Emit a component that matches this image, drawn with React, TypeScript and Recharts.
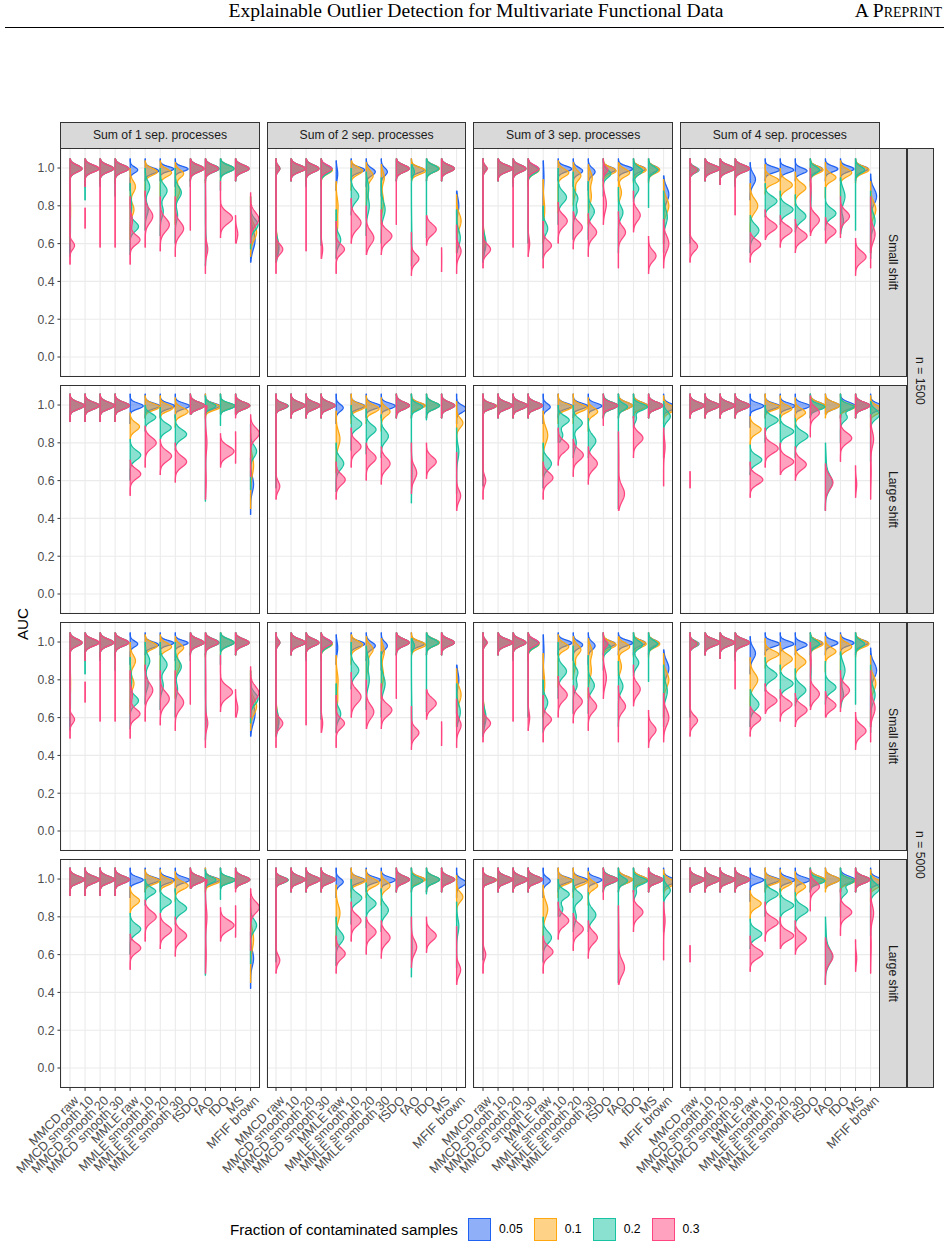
import React from "react";
import { ComposedChart, Area, XAxis, YAxis, CartesianGrid } from "recharts";

// Methods on the x axis, one half-violin per contamination fraction each
const methods = [
  "MMCD raw",
  "MMCD smooth 10",
  "MMCD smooth 20",
  "MMCD smooth 30",
  "MMLE raw",
  "MMLE smooth 10",
  "MMLE smooth 20",
  "MMLE smooth 30",
  "fSDO",
  "fAO",
  "fDO",
  "MS",
  "MFIF brown",
];
const methodTicks = [1, 2, 3, 4, 5, 6, 7, 8, 9, 10, 11, 12, 13];
const fractions = ["0.05", "0.1", "0.2", "0.3"];
const fractionColors = ["#1f62f2", "#ffa70f", "#17c3a1", "#ff4580"];
const processes = [
  "Sum of 1 sep. processes",
  "Sum of 2 sep. processes",
  "Sum of 3 sep. processes",
  "Sum of 4 sep. processes",
];
const shifts = ["Small shift", "Large shift", "Small shift", "Large shift"];
const sampleSizes = ["n = 1500", "n = 5000"];
const aucTicks = [0, 0.2, 0.4, 0.6, 0.8, 1.0];

// One violin: [fraction index, lowest AUC, highest AUC, then (centre, spread, half-width) per mode]
type Violin = number[];

const smallShift1: Violin[][] = [
  [[0, 0.55, 1.05, 0.997, 0.018, 0.8, 0.75, 0.1, 0.02], [1, 0.6, 1.05, 0.997, 0.018, 0.8, 0.78, 0.06, 0.04], [2, 0.53, 1.05, 0.997, 0.018, 0.78, 0.7, 0.1, 0.03], [3, 0.49, 1.05, 0.997, 0.018, 0.8, 0.59, 0.02, 0.3]],
  [[0, 0.9, 1.05, 0.997, 0.018, 0.9], [1, 0.9, 1.05, 0.997, 0.018, 0.9], [2, 0.83, 1.05, 0.997, 0.018, 0.9], [3, 0.9, 1.05, 0.997, 0.018, 0.95], [3, 0.68, 0.79, 0.74, 0.05, 0.01]],
  [[0, 0.92, 1.05, 0.997, 0.018, 0.9], [1, 0.92, 1.05, 0.997, 0.018, 0.9], [2, 0.9, 1.05, 0.997, 0.018, 0.9], [3, 0.58, 1.05, 0.997, 0.018, 0.9]],
  [[0, 0.92, 1.05, 0.997, 0.018, 0.9], [1, 0.92, 1.05, 0.997, 0.018, 0.9], [2, 0.85, 1.05, 0.997, 0.018, 0.9], [3, 0.58, 1.05, 0.997, 0.018, 0.9]],
  [[0, 0.88, 1.05, 0.99, 0.015, 0.5], [1, 0.62, 1.0, 0.9, 0.03, 0.35, 0.78, 0.03, 0.25], [2, 0.54, 0.92, 0.69, 0.025, 0.55, 0.8, 0.04, 0.1], [3, 0.49, 0.85, 0.62, 0.025, 0.65, 0.72, 0.03, 0.15]],
  [[0, 0.93, 1.05, 0.985, 0.015, 0.9], [1, 0.85, 1.04, 0.98, 0.018, 0.8], [2, 0.67, 1.0, 0.9, 0.03, 0.3, 0.78, 0.03, 0.2], [3, 0.58, 0.88, 0.745, 0.035, 0.5]],
  [[0, 0.93, 1.05, 0.995, 0.013, 0.9], [1, 0.85, 1.04, 0.975, 0.02, 0.75], [2, 0.64, 1.0, 0.88, 0.03, 0.45, 0.77, 0.03, 0.2], [3, 0.56, 0.85, 0.7, 0.035, 0.6]],
  [[0, 0.9, 1.05, 0.995, 0.013, 0.85], [1, 0.7, 1.03, 0.97, 0.02, 0.55, 0.88, 0.03, 0.3], [2, 0.6, 1.0, 0.87, 0.03, 0.4, 0.75, 0.03, 0.15], [3, 0.53, 0.85, 0.68, 0.035, 0.55]],
  [[0, 0.93, 1.05, 0.997, 0.018, 0.9], [1, 0.93, 1.05, 0.997, 0.018, 0.9], [2, 0.9, 1.05, 0.997, 0.018, 0.9], [3, 0.67, 1.05, 0.997, 0.018, 0.9]],
  [[0, 0.93, 1.05, 0.997, 0.018, 0.9], [1, 0.92, 1.05, 0.997, 0.018, 0.9], [2, 0.48, 1.05, 0.997, 0.018, 0.9, 0.6, 0.05, 0.05], [3, 0.44, 1.05, 0.997, 0.018, 0.85, 0.57, 0.03, 0.15, 0.75, 0.1, 0.03]],
  [[0, 0.95, 1.05, 0.997, 0.018, 0.9], [1, 0.93, 1.05, 0.997, 0.018, 0.9], [2, 0.88, 1.05, 0.997, 0.018, 0.9], [3, 0.63, 0.93, 0.735, 0.03, 0.8]],
  [[0, 0.93, 1.05, 0.997, 0.018, 0.9], [1, 0.93, 1.05, 0.997, 0.018, 0.9], [2, 0.93, 1.05, 0.997, 0.018, 0.9], [3, 0.93, 1.05, 0.997, 0.018, 0.9], [3, 0.6, 0.75, 0.65, 0.03, 0.15]],
  [[0, 0.5, 0.8, 0.62, 0.05, 0.3], [1, 0.53, 0.85, 0.66, 0.04, 0.4], [2, 0.57, 0.85, 0.7, 0.03, 0.5], [3, 0.6, 0.87, 0.73, 0.035, 0.55]],
];

const smallShift2: Violin[][] = [
  [[0, 0.5, 1.05, 0.997, 0.015, 0.25, 0.57, 0.03, 0.15], [1, 0.5, 1.05, 0.997, 0.015, 0.25, 0.6, 0.04, 0.12], [2, 0.5, 1.05, 0.997, 0.015, 0.25, 0.58, 0.04, 0.2], [3, 0.44, 1.05, 0.997, 0.015, 0.25, 0.57, 0.025, 0.45]],
  [[0, 0.93, 1.05, 0.997, 0.018, 0.95], [1, 0.93, 1.05, 0.997, 0.018, 0.95], [2, 0.93, 1.05, 0.997, 0.018, 0.95], [3, 0.93, 1.05, 0.997, 0.018, 0.95]],
  [[0, 0.92, 1.05, 0.997, 0.018, 0.85], [1, 0.92, 1.05, 0.997, 0.018, 0.85], [2, 0.9, 1.05, 0.997, 0.018, 0.85], [3, 0.56, 1.05, 0.997, 0.018, 0.85]],
  [[0, 0.92, 1.05, 0.995, 0.018, 0.75], [1, 0.9, 1.05, 0.99, 0.02, 0.75], [2, 0.59, 1.05, 0.99, 0.02, 0.7], [3, 0.52, 1.05, 0.997, 0.018, 0.7, 0.57, 0.03, 0.1]],
  [[0, 0.88, 1.04, 0.97, 0.03, 0.1], [1, 0.62, 0.93, 0.8, 0.04, 0.12, 0.7, 0.04, 0.1], [2, 0.52, 0.78, 0.62, 0.03, 0.3], [3, 0.44, 0.72, 0.57, 0.025, 0.55]],
  [[0, 0.93, 1.05, 0.99, 0.015, 0.9], [1, 0.88, 1.04, 0.985, 0.02, 0.75], [2, 0.75, 1.0, 0.85, 0.03, 0.5], [3, 0.6, 0.84, 0.71, 0.035, 0.65]],
  [[0, 0.9, 1.05, 0.98, 0.02, 0.6], [1, 0.8, 1.03, 0.96, 0.025, 0.45, 0.88, 0.03, 0.15], [2, 0.64, 0.98, 0.8, 0.04, 0.2, 0.9, 0.03, 0.15], [3, 0.54, 0.8, 0.63, 0.035, 0.5]],
  [[0, 0.85, 1.05, 0.98, 0.02, 0.4], [1, 0.7, 1.02, 0.95, 0.03, 0.2, 0.82, 0.04, 0.15], [2, 0.6, 0.95, 0.78, 0.04, 0.25], [3, 0.54, 0.78, 0.64, 0.03, 0.7]],
  [[0, 0.93, 1.05, 0.997, 0.018, 0.85], [1, 0.93, 1.05, 0.997, 0.018, 0.85], [2, 0.93, 1.05, 0.997, 0.018, 0.85], [3, 0.7, 1.05, 0.997, 0.018, 0.85]],
  [[0, 0.95, 1.05, 0.99, 0.015, 0.85], [1, 0.93, 1.05, 0.985, 0.018, 0.95], [2, 0.48, 1.02, 0.98, 0.02, 0.2, 0.6, 0.1, 0.03], [3, 0.43, 0.66, 0.52, 0.025, 0.5]],
  [[0, 0.93, 1.05, 0.997, 0.018, 0.85], [1, 0.93, 1.05, 0.997, 0.018, 0.85], [2, 0.63, 1.05, 0.997, 0.018, 0.8], [3, 0.59, 0.75, 0.675, 0.028, 0.65]],
  [[0, 0.93, 1.05, 0.997, 0.018, 0.85], [1, 0.93, 1.05, 0.997, 0.018, 0.85], [2, 0.93, 1.05, 0.997, 0.018, 0.85], [3, 0.93, 1.05, 0.997, 0.018, 0.85], [3, 0.45, 0.58, 0.52, 0.04, 0.01]],
  [[0, 0.62, 0.88, 0.8, 0.04, 0.15], [1, 0.55, 0.86, 0.72, 0.04, 0.3], [2, 0.55, 0.78, 0.63, 0.04, 0.25], [3, 0.44, 0.7, 0.56, 0.03, 0.3]],
];

const smallShift3: Violin[][] = [
  [[0, 0.5, 1.05, 0.997, 0.015, 0.25, 0.6, 0.04, 0.12], [1, 0.52, 1.05, 0.997, 0.015, 0.25, 0.62, 0.04, 0.12], [2, 0.5, 1.05, 0.997, 0.015, 0.25, 0.6, 0.04, 0.2], [3, 0.47, 1.05, 0.997, 0.015, 0.28, 0.57, 0.025, 0.5]],
  [[0, 0.93, 1.05, 0.997, 0.018, 0.95], [1, 0.93, 1.05, 0.997, 0.018, 0.95], [2, 0.93, 1.05, 0.997, 0.018, 0.95], [3, 0.93, 1.05, 0.997, 0.018, 0.95]],
  [[0, 0.92, 1.05, 0.997, 0.018, 0.85], [1, 0.92, 1.05, 0.997, 0.018, 0.85], [2, 0.9, 1.05, 0.997, 0.018, 0.85], [3, 0.58, 1.05, 0.997, 0.018, 0.85]],
  [[0, 0.92, 1.05, 0.995, 0.018, 0.73], [1, 0.9, 1.05, 0.99, 0.02, 0.73], [2, 0.6, 1.05, 0.99, 0.02, 0.7], [3, 0.53, 1.05, 0.997, 0.018, 0.7, 0.6, 0.03, 0.1]],
  [[0, 0.6, 1.04, 0.95, 0.05, 0.05], [1, 0.6, 0.94, 0.78, 0.05, 0.1], [2, 0.52, 0.8, 0.68, 0.03, 0.3], [3, 0.47, 0.72, 0.59, 0.025, 0.55]],
  [[0, 0.93, 1.05, 0.995, 0.015, 0.9], [1, 0.76, 1.04, 0.975, 0.02, 0.7], [2, 0.7, 1.0, 0.845, 0.03, 0.55], [3, 0.6, 0.82, 0.72, 0.03, 0.6]],
  [[0, 0.9, 1.05, 0.985, 0.018, 0.62], [1, 0.8, 1.03, 0.96, 0.025, 0.5, 0.88, 0.03, 0.15], [2, 0.62, 0.98, 0.84, 0.025, 0.3, 0.77, 0.025, 0.25], [3, 0.57, 0.77, 0.685, 0.03, 0.6]],
  [[0, 0.88, 1.05, 0.98, 0.02, 0.45], [1, 0.7, 1.02, 0.95, 0.03, 0.25, 0.85, 0.04, 0.2], [2, 0.62, 0.93, 0.77, 0.03, 0.4], [3, 0.53, 0.76, 0.66, 0.03, 0.55]],
  [[0, 0.93, 1.05, 0.99, 0.015, 0.8], [1, 0.9, 1.05, 0.985, 0.018, 0.85], [2, 0.85, 1.05, 0.97, 0.02, 0.5], [3, 0.7, 1.05, 0.99, 0.015, 0.3, 0.81, 0.04, 0.2]],
  [[0, 0.93, 1.05, 0.995, 0.015, 0.95], [1, 0.82, 1.03, 0.975, 0.02, 0.75, 0.87, 0.03, 0.2], [2, 0.55, 0.9, 0.765, 0.03, 0.3], [3, 0.47, 0.77, 0.66, 0.03, 0.47]],
  [[0, 0.93, 1.05, 0.995, 0.015, 0.8], [1, 0.92, 1.05, 0.99, 0.018, 0.85], [2, 0.82, 1.05, 0.985, 0.02, 0.6, 0.89, 0.025, 0.35], [3, 0.66, 0.88, 0.75, 0.03, 0.45]],
  [[0, 0.93, 1.05, 0.995, 0.015, 0.7], [1, 0.92, 1.05, 0.99, 0.018, 0.75], [2, 0.79, 1.05, 0.99, 0.018, 0.6], [3, 0.44, 0.64, 0.535, 0.028, 0.5]],
  [[0, 0.6, 0.96, 0.86, 0.04, 0.35], [1, 0.6, 0.94, 0.8, 0.04, 0.35], [2, 0.55, 0.88, 0.74, 0.04, 0.25], [3, 0.47, 0.73, 0.6, 0.04, 0.35]],
];

const smallShift4: Violin[][] = [
  [[0, 0.63, 1.05, 0.99, 0.015, 0.6], [1, 0.63, 1.05, 0.99, 0.015, 0.55], [2, 0.6, 1.05, 0.99, 0.015, 0.5], [3, 0.5, 1.05, 0.99, 0.015, 0.45, 0.585, 0.025, 0.5]],
  [[0, 0.93, 1.05, 0.997, 0.018, 0.97], [1, 0.93, 1.05, 0.997, 0.018, 0.97], [2, 0.93, 1.05, 0.997, 0.018, 0.97], [3, 0.93, 1.05, 0.997, 0.018, 0.97]],
  [[0, 0.91, 1.05, 0.997, 0.018, 0.95], [1, 0.91, 1.05, 0.997, 0.018, 0.95], [2, 0.91, 1.05, 0.997, 0.018, 0.95], [3, 0.91, 1.05, 0.997, 0.018, 0.95]],
  [[0, 0.92, 1.05, 0.997, 0.018, 0.95], [1, 0.92, 1.05, 0.997, 0.018, 0.95], [2, 0.9, 1.05, 0.997, 0.018, 0.95], [3, 0.75, 1.05, 0.997, 0.018, 0.95]],
  [[0, 0.83, 1.03, 0.94, 0.03, 0.35], [1, 0.66, 0.92, 0.8, 0.035, 0.5], [2, 0.55, 0.75, 0.67, 0.03, 0.58], [3, 0.5, 0.66, 0.595, 0.025, 0.7]],
  [[0, 0.93, 1.05, 0.99, 0.015, 0.95], [1, 0.86, 1.02, 0.935, 0.02, 0.9], [2, 0.74, 0.92, 0.825, 0.025, 0.78], [3, 0.62, 0.78, 0.69, 0.025, 0.78]],
  [[0, 0.93, 1.05, 0.99, 0.015, 0.9], [1, 0.83, 1.0, 0.91, 0.025, 0.8], [2, 0.7, 0.88, 0.78, 0.025, 0.85], [3, 0.58, 0.75, 0.67, 0.025, 0.78]],
  [[0, 0.93, 1.05, 0.985, 0.015, 0.78], [1, 0.8, 0.98, 0.895, 0.025, 0.7], [2, 0.66, 0.86, 0.745, 0.028, 0.7], [3, 0.55, 0.73, 0.64, 0.027, 0.78]],
  [[0, 0.93, 1.05, 0.995, 0.015, 0.8], [1, 0.9, 1.05, 0.99, 0.018, 0.85], [2, 0.66, 1.05, 0.99, 0.018, 0.6, 0.85, 0.05, 0.05], [3, 0.64, 1.0, 0.725, 0.03, 0.6, 0.9, 0.04, 0.05]],
  [[0, 0.93, 1.05, 0.995, 0.015, 0.83], [1, 0.84, 1.03, 0.95, 0.02, 0.7], [2, 0.67, 0.9, 0.76, 0.025, 0.7], [3, 0.6, 0.74, 0.665, 0.025, 0.7]],
  [[0, 0.93, 1.05, 0.995, 0.015, 0.9], [1, 0.85, 1.04, 0.975, 0.02, 0.75], [2, 0.65, 0.95, 0.85, 0.04, 0.3, 0.72, 0.03, 0.2], [3, 0.63, 0.85, 0.745, 0.028, 0.6]],
  [[0, 0.93, 1.05, 0.995, 0.015, 0.85], [1, 0.92, 1.05, 0.99, 0.018, 0.9], [2, 0.67, 1.05, 0.99, 0.018, 0.6], [3, 0.43, 0.63, 0.53, 0.028, 0.7]],
  [[0, 0.55, 0.97, 0.85, 0.04, 0.4], [1, 0.55, 0.93, 0.78, 0.04, 0.35], [2, 0.52, 0.88, 0.72, 0.04, 0.3], [3, 0.47, 0.85, 0.65, 0.04, 0.3]],
];

const largeShift1: Violin[][] = [
  [[0, 0.91, 1.06, 0.997, 0.018, 0.95], [1, 0.91, 1.06, 0.997, 0.018, 0.95], [2, 0.91, 1.06, 0.997, 0.018, 0.95], [3, 0.91, 1.06, 0.997, 0.018, 0.95]],
  [[0, 0.91, 1.06, 0.997, 0.018, 0.95], [1, 0.91, 1.06, 0.997, 0.018, 0.95], [2, 0.91, 1.06, 0.997, 0.018, 0.95], [3, 0.91, 1.06, 0.997, 0.018, 0.95]],
  [[0, 0.91, 1.06, 0.997, 0.018, 0.95], [1, 0.91, 1.06, 0.997, 0.018, 0.95], [2, 0.91, 1.06, 0.997, 0.018, 0.95], [3, 0.91, 1.06, 0.997, 0.018, 0.95]],
  [[0, 0.91, 1.06, 0.997, 0.018, 0.95], [1, 0.91, 1.06, 0.997, 0.018, 0.95], [2, 0.91, 1.06, 0.997, 0.018, 0.95], [3, 0.91, 1.06, 0.997, 0.018, 0.95]],
  [[0, 0.9, 1.06, 0.995, 0.015, 0.87], [1, 0.82, 0.96, 0.885, 0.022, 0.62], [2, 0.6, 0.82, 0.735, 0.025, 0.7], [3, 0.52, 0.71, 0.635, 0.025, 0.7]],
  [[0, 0.93, 1.06, 0.995, 0.015, 0.95], [1, 0.93, 1.05, 0.99, 0.017, 0.95], [2, 0.86, 1.0, 0.935, 0.02, 0.7], [3, 0.67, 0.89, 0.8, 0.028, 0.73]],
  [[0, 0.93, 1.06, 0.995, 0.015, 0.95], [1, 0.93, 1.05, 0.985, 0.017, 0.85], [2, 0.82, 0.99, 0.88, 0.022, 0.73], [3, 0.63, 0.82, 0.73, 0.027, 0.75]],
  [[0, 0.93, 1.06, 0.995, 0.015, 0.95], [1, 0.88, 1.04, 0.965, 0.02, 0.85], [2, 0.76, 0.95, 0.845, 0.025, 0.75], [3, 0.59, 0.8, 0.7, 0.028, 0.75]],
  [[0, 0.95, 1.06, 0.997, 0.018, 0.95], [1, 0.95, 1.06, 0.997, 0.018, 0.95], [2, 0.95, 1.06, 0.997, 0.018, 0.95], [3, 0.95, 1.06, 0.997, 0.018, 0.95]],
  [[0, 0.95, 1.06, 0.995, 0.015, 0.95], [1, 0.93, 1.06, 0.99, 0.017, 1.0], [2, 0.49, 1.05, 0.995, 0.015, 0.7, 0.75, 0.1, 0.02], [3, 0.5, 1.0, 0.99, 0.015, 0.1, 0.8, 0.05, 0.1, 0.6, 0.06, 0.05]],
  [[0, 0.95, 1.06, 0.995, 0.015, 0.95], [1, 0.95, 1.06, 0.995, 0.015, 0.95], [2, 0.89, 1.06, 0.995, 0.016, 0.98], [3, 0.67, 0.85, 0.755, 0.027, 0.9]],
  [[0, 0.95, 1.06, 0.997, 0.018, 0.95], [1, 0.95, 1.06, 0.997, 0.018, 0.95], [2, 0.95, 1.06, 0.997, 0.018, 0.95], [3, 0.93, 1.06, 0.997, 0.018, 0.95], [3, 0.69, 0.86, 0.78, 0.05, 0.01]],
  [[0, 0.42, 0.72, 0.58, 0.04, 0.2], [1, 0.45, 0.85, 0.68, 0.05, 0.2], [2, 0.55, 0.9, 0.755, 0.03, 0.4], [3, 0.62, 0.95, 0.85, 0.03, 0.58]],
];

const largeShift2: Violin[][] = [
  [[0, 0.6, 1.06, 0.995, 0.015, 0.8], [1, 0.6, 1.06, 0.995, 0.015, 0.8], [2, 0.56, 1.06, 0.995, 0.015, 0.8], [3, 0.5, 1.06, 0.995, 0.015, 0.75, 0.57, 0.025, 0.25]],
  [[0, 0.93, 1.06, 0.997, 0.018, 0.93], [1, 0.93, 1.06, 0.997, 0.018, 0.93], [2, 0.93, 1.06, 0.997, 0.018, 0.93], [3, 0.93, 1.06, 0.997, 0.018, 0.93]],
  [[0, 0.93, 1.06, 0.997, 0.018, 0.93], [1, 0.93, 1.06, 0.997, 0.018, 0.93], [2, 0.93, 1.06, 0.997, 0.018, 0.93], [3, 0.93, 1.06, 0.997, 0.018, 0.93]],
  [[0, 0.93, 1.06, 0.997, 0.018, 0.93], [1, 0.93, 1.06, 0.997, 0.018, 0.93], [2, 0.93, 1.06, 0.997, 0.018, 0.93], [3, 0.93, 1.06, 0.997, 0.018, 0.93]],
  [[0, 0.9, 1.06, 0.985, 0.018, 0.47], [1, 0.64, 0.97, 0.82, 0.04, 0.25], [2, 0.54, 0.8, 0.69, 0.03, 0.5], [3, 0.5, 0.7, 0.605, 0.027, 0.6]],
  [[0, 0.93, 1.06, 0.995, 0.015, 0.9], [1, 0.9, 1.06, 0.99, 0.017, 0.93], [2, 0.76, 1.0, 0.9, 0.025, 0.7], [3, 0.67, 0.88, 0.78, 0.028, 0.65]],
  [[0, 0.93, 1.06, 0.995, 0.015, 0.95], [1, 0.9, 1.05, 0.98, 0.02, 0.85], [2, 0.74, 0.98, 0.87, 0.025, 0.65], [3, 0.6, 0.8, 0.72, 0.028, 0.65]],
  [[0, 0.93, 1.06, 0.995, 0.015, 0.93], [1, 0.86, 1.04, 0.965, 0.022, 0.58], [2, 0.72, 0.95, 0.835, 0.028, 0.47], [3, 0.58, 0.78, 0.69, 0.03, 0.58]],
  [[0, 0.93, 1.06, 0.997, 0.018, 0.87], [1, 0.93, 1.06, 0.997, 0.018, 0.87], [2, 0.93, 1.06, 0.997, 0.018, 0.87], [3, 0.93, 1.06, 0.997, 0.018, 0.87]],
  [[0, 0.93, 1.06, 0.997, 0.016, 0.9], [1, 0.93, 1.06, 0.997, 0.016, 0.93], [2, 0.48, 1.06, 0.99, 0.017, 0.75, 0.65, 0.06, 0.04], [3, 0.53, 0.8, 0.64, 0.035, 0.35]],
  [[0, 0.93, 1.06, 0.997, 0.018, 0.87], [1, 0.93, 1.06, 0.997, 0.018, 0.87], [2, 0.92, 1.06, 0.997, 0.018, 0.87], [3, 0.61, 0.8, 0.7, 0.027, 0.65]],
  [[0, 0.93, 1.06, 0.997, 0.018, 0.87], [1, 0.93, 1.06, 0.997, 0.018, 0.87], [2, 0.93, 1.06, 0.997, 0.018, 0.87], [3, 0.93, 1.06, 0.997, 0.018, 0.87]],
  [[0, 0.9, 1.06, 0.98, 0.018, 0.65], [1, 0.78, 1.02, 0.905, 0.025, 0.42], [2, 0.53, 0.88, 0.75, 0.04, 0.15], [3, 0.44, 0.75, 0.52, 0.03, 0.27]],
];

const largeShift3: Violin[][] = [
  [[0, 0.6, 1.06, 0.995, 0.015, 0.9], [1, 0.6, 1.06, 0.995, 0.015, 0.9], [2, 0.57, 1.06, 0.995, 0.015, 0.85], [3, 0.5, 1.06, 0.995, 0.015, 0.85, 0.6, 0.025, 0.18]],
  [[0, 0.93, 1.06, 0.997, 0.018, 0.95], [1, 0.93, 1.06, 0.997, 0.018, 0.95], [2, 0.93, 1.06, 0.997, 0.018, 0.95], [3, 0.93, 1.06, 0.997, 0.018, 0.95]],
  [[0, 0.93, 1.06, 0.997, 0.018, 0.95], [1, 0.93, 1.06, 0.997, 0.018, 0.95], [2, 0.93, 1.06, 0.997, 0.018, 0.95], [3, 0.93, 1.06, 0.997, 0.018, 0.95]],
  [[0, 0.93, 1.06, 0.997, 0.018, 0.95], [1, 0.93, 1.06, 0.997, 0.018, 0.95], [2, 0.93, 1.06, 0.997, 0.018, 0.95], [3, 0.93, 1.06, 0.997, 0.018, 0.95]],
  [[0, 0.9, 1.06, 0.99, 0.017, 0.47], [1, 0.62, 0.97, 0.84, 0.04, 0.3], [2, 0.56, 0.8, 0.69, 0.03, 0.55], [3, 0.5, 0.7, 0.615, 0.027, 0.65]],
  [[0, 0.93, 1.06, 0.995, 0.015, 0.93], [1, 0.9, 1.06, 0.99, 0.017, 0.93], [2, 0.8, 1.0, 0.92, 0.022, 0.73, 0.84, 0.025, 0.3], [3, 0.68, 0.88, 0.78, 0.028, 0.7]],
  [[0, 0.93, 1.06, 0.995, 0.015, 0.95], [1, 0.9, 1.06, 0.985, 0.018, 0.93], [2, 0.72, 1.0, 0.905, 0.025, 0.6, 0.8, 0.03, 0.2], [3, 0.62, 0.82, 0.735, 0.028, 0.67]],
  [[0, 0.93, 1.06, 0.995, 0.015, 0.9], [1, 0.86, 1.04, 0.965, 0.02, 0.62], [2, 0.72, 0.93, 0.81, 0.03, 0.5], [3, 0.58, 0.78, 0.69, 0.03, 0.6]],
  [[0, 0.93, 1.06, 0.997, 0.018, 0.95], [1, 0.93, 1.06, 0.997, 0.018, 0.95], [2, 0.93, 1.06, 0.997, 0.018, 0.95], [3, 0.89, 1.06, 0.997, 0.016, 0.95]],
  [[0, 0.93, 1.06, 0.997, 0.018, 0.93], [1, 0.93, 1.06, 0.997, 0.018, 0.93], [2, 0.45, 1.06, 0.99, 0.017, 0.6], [3, 0.44, 0.86, 0.53, 0.04, 0.4, 0.7, 0.08, 0.03]],
  [[0, 0.93, 1.06, 0.997, 0.018, 0.93], [1, 0.93, 1.06, 0.997, 0.018, 0.93], [2, 0.88, 1.06, 0.99, 0.017, 0.93, 0.93, 0.02, 0.2], [3, 0.72, 0.94, 0.825, 0.028, 0.63]],
  [[0, 0.93, 1.06, 0.997, 0.018, 0.95], [1, 0.93, 1.06, 0.997, 0.018, 0.95], [2, 0.93, 1.06, 0.997, 0.018, 0.95], [3, 0.93, 1.06, 0.997, 0.018, 0.95]],
  [[0, 0.93, 1.06, 0.99, 0.017, 0.85], [1, 0.9, 1.05, 0.98, 0.02, 0.75], [2, 0.72, 1.02, 0.94, 0.025, 0.45], [3, 0.57, 0.88, 0.78, 0.04, 0.1]],
];

const largeShift4: Violin[][] = [
  [[0, 0.93, 1.06, 0.997, 0.018, 0.95], [1, 0.93, 1.06, 0.997, 0.018, 0.95], [2, 0.93, 1.06, 0.997, 0.018, 0.95], [3, 0.93, 1.06, 0.997, 0.018, 0.95], [3, 0.56, 0.65, 0.6, 0.03, 0.01]],
  [[0, 0.93, 1.06, 0.997, 0.018, 0.97], [1, 0.93, 1.06, 0.997, 0.018, 0.97], [2, 0.93, 1.06, 0.997, 0.018, 0.97], [3, 0.93, 1.06, 0.997, 0.018, 0.97]],
  [[0, 0.93, 1.06, 0.997, 0.018, 0.97], [1, 0.93, 1.06, 0.997, 0.018, 0.97], [2, 0.93, 1.06, 0.997, 0.018, 0.97], [3, 0.93, 1.06, 0.997, 0.018, 0.97]],
  [[0, 0.93, 1.06, 0.997, 0.018, 0.97], [1, 0.93, 1.06, 0.997, 0.018, 0.97], [2, 0.93, 1.06, 0.997, 0.018, 0.97], [3, 0.93, 1.06, 0.997, 0.018, 0.97]],
  [[0, 0.88, 1.06, 0.995, 0.015, 0.9], [1, 0.79, 0.94, 0.87, 0.022, 0.73], [2, 0.63, 0.79, 0.71, 0.023, 0.77], [3, 0.51, 0.7, 0.605, 0.025, 0.84]],
  [[0, 0.93, 1.06, 0.995, 0.015, 0.95], [1, 0.93, 1.06, 0.99, 0.016, 0.98], [2, 0.8, 1.0, 0.92, 0.022, 0.86], [3, 0.67, 0.88, 0.77, 0.025, 0.86]],
  [[0, 0.93, 1.06, 0.995, 0.015, 0.97], [1, 0.9, 1.05, 0.98, 0.018, 0.77], [2, 0.76, 0.95, 0.86, 0.023, 0.89], [3, 0.63, 0.8, 0.7, 0.025, 0.89]],
  [[0, 0.93, 1.06, 0.995, 0.015, 0.97], [1, 0.88, 1.04, 0.96, 0.02, 0.68], [2, 0.72, 0.93, 0.835, 0.025, 0.84], [3, 0.6, 0.78, 0.685, 0.027, 0.73]],
  [[0, 0.93, 1.06, 0.997, 0.018, 0.95], [1, 0.93, 1.06, 0.997, 0.018, 0.95], [2, 0.93, 1.06, 0.99, 0.016, 0.97], [3, 0.83, 1.05, 0.96, 0.025, 0.6]],
  [[0, 0.95, 1.06, 0.997, 0.018, 0.95], [1, 0.93, 1.06, 0.997, 0.018, 0.95], [2, 0.44, 0.8, 0.59, 0.04, 0.45, 0.7, 0.05, 0.05], [3, 0.44, 0.69, 0.59, 0.035, 0.5]],
  [[0, 0.93, 1.06, 0.997, 0.018, 0.95], [1, 0.93, 1.06, 0.99, 0.016, 0.98], [2, 0.8, 1.06, 0.99, 0.016, 0.9, 0.935, 0.02, 0.45], [3, 0.7, 0.95, 0.825, 0.027, 0.75]],
  [[0, 0.93, 1.06, 0.997, 0.018, 0.95], [1, 0.93, 1.06, 0.997, 0.018, 0.95], [2, 0.93, 1.06, 0.997, 0.018, 0.95], [3, 0.93, 1.06, 0.997, 0.018, 0.97], [3, 0.51, 0.68, 0.58, 0.03, 0.08]],
  [[0, 0.93, 1.06, 0.99, 0.017, 0.95], [1, 0.88, 1.05, 0.975, 0.02, 0.85], [2, 0.7, 1.02, 0.95, 0.025, 0.6], [3, 0.5, 0.95, 0.82, 0.04, 0.2, 0.65, 0.06, 0.04]],
];

// Facet grid: rows are (sample size, shift), columns are number of processes
const panelGrid: Violin[][][][] = [
  [smallShift1, smallShift2, smallShift3, smallShift4],
  [largeShift1, largeShift2, largeShift3, largeShift4],
  [smallShift1, smallShift2, smallShift3, smallShift4],
  [largeShift1, largeShift2, largeShift3, largeShift4],
];

const FONT = "'Liberation Sans', Arial, Helvetica, sans-serif";
const SERIF = "'Liberation Serif', 'Times New Roman', serif";
const PANEL_W = 198.6;
const PANEL_H = 228.4;
const COL_LEFT = [60.7, 267.3, 473.9, 680.5];
const ROW_TOP = [148.3, 385.3, 622.3, 859.3];
const Y_AXIS_W = 60;
const X_AXIS_H = 130;
const X_LABEL_PAD = 120; // room left of the bottom panels for the slanted labels
const X_LABEL_PAD_RIGHT = 16;

function densityAt(v: Violin, y: number) {
  let d = 0;
  for (let i = 3; i + 2 < v.length; i += 3) {
    const z = (y - v[i]) / v[i + 1];
    d += v[i + 2] * Math.exp(-0.5 * z * z);
  }
  return Math.min(d, 0.98);
}

const GAP = [null, null];

// Rows for one panel: per method a vertical sweep over AUC; each fraction column holds
// [method position, method position + density], or a null pair where that violin is absent.
function buildRows(panel: Violin[][]) {
  const rows: Record<string, any>[] = [];
  panel.forEach((violins, k) => {
    const pos = k + 1;
    const top = Math.max(...violins.map((v) => v[2]));
    const bottom = Math.min(...violins.map((v) => v[1]));
    const ys: number[] = [];
    for (let y = top; y >= bottom; y -= 0.004) ys.push(y);
    violins.forEach((v) => ys.push(v[1], v[2]));
    ys.sort((a, b) => b - a);
    rows.push({ auc: top, f0: GAP, f1: GAP, f2: GAP, f3: GAP });
    ys.forEach((y) => {
      const row: Record<string, any> = { auc: y };
      for (let f = 0; f < fractions.length; f++) {
        const v = violins.find((u) => u[0] === f && y >= u[1] - 1e-9 && y <= u[2] + 1e-9);
        row["f" + f] = v ? [pos, pos + densityAt(v, y)] : GAP;
      }
      rows.push(row);
    });
  });
  return rows;
}

function MethodTick(props: any) {
  const { x, y, payload } = props;
  const ax = x + 2.5;
  const ay = y + 1.5;
  return (
    <text
      x={ax}
      y={ay}
      transform={`rotate(-45 ${ax} ${ay})`}
      textAnchor="end"
      dominantBaseline="hanging"
      fontSize={12.8}
      fontFamily={FONT}
      fill="#4d4d4d"
    >
      {methods[payload.value - 1]}
    </text>
  );
}

function Panel({ data, left, top, showY, showX }: { data: Violin[][]; left: number; top: number; showY: boolean; showX: boolean }) {
  const rows = buildRows(data);
  const yW = showY ? Y_AXIS_W : 0;
  const xH = showX ? X_AXIS_H : 0;
  const pad = showX ? X_LABEL_PAD : 0;
  const padRight = showX ? X_LABEL_PAD_RIGHT : 0;
  return (
    <div style={{ position: "absolute", left: left - yW - pad, top }}>
      <ComposedChart
        layout="vertical"
        width={PANEL_W + yW + pad + padRight}
        height={PANEL_H + xH}
        data={rows}
        margin={{ top: 0, right: padRight, bottom: 0, left: pad }}
      >
        <CartesianGrid stroke="#ebebeb" strokeWidth={1.1} />
        <XAxis
          type="number"
          domain={[0.4, 13.6]}
          ticks={methodTicks}
          interval={0}
          allowDataOverflow
          hide={!showX}
          height={xH}
          axisLine={false}
          tickLine={{ stroke: "#333333" }}
          tickSize={3.5}
          tick={<MethodTick />}
        />
        <YAxis
          type="number"
          dataKey="auc"
          reversed
          domain={[-0.1026, 1.106]}
          ticks={aucTicks}
          allowDataOverflow
          hide={!showY}
          width={yW}
          axisLine={false}
          tickLine={{ stroke: "#333333" }}
          tickSize={3.5}
          tickMargin={3}
          tickFormatter={(v: number) => v.toFixed(1)}
          tick={{ fontSize: 12.2, fill: "#4d4d4d", fontFamily: FONT }}
        />
        {fractions.map((fr, f) => (
          <Area
            key={fr}
            name={fr}
            dataKey={"f" + f}
            type="linear"
            connectNulls={false}
            stroke={fractionColors[f]}
            strokeWidth={1.25}
            fill={fractionColors[f]}
            fillOpacity={0.5}
            dot={false}
            activeDot={false}
            isAnimationActive={false}
          />
        ))}
      </ComposedChart>
      <div
        style={{
          position: "absolute",
          left: pad + yW - 0.5,
          top: -0.5,
          width: PANEL_W + 1,
          height: PANEL_H + 1,
          border: "1.1px solid #333333",
          boxSizing: "border-box",
          pointerEvents: "none",
        }}
      />
    </div>
  );
}

const stripStyle: React.CSSProperties = {
  position: "absolute",
  background: "#d9d9d9",
  border: "1.1px solid #333333",
  boxSizing: "border-box",
  display: "flex",
  alignItems: "center",
  justifyContent: "center",
  fontFamily: FONT,
  fontSize: 12.2,
  color: "#1a1a1a",
};

export default function App() {
  return (
    <div style={{ position: "absolute", left: 0, top: 0, width: 948, height: 1248, background: "#ffffff" }}>
      {/* running header */}
      <div
        style={{
          position: "absolute",
          left: 0,
          top: 0,
          width: 952,
          textAlign: "center",
          fontFamily: SERIF,
          fontSize: 19.6,
          color: "#000",
        }}
      >
        Explainable Outlier Detection for Multivariate Functional Data
      </div>
      <div
        style={{
          position: "absolute",
          right: 6,
          top: 0,
          fontFamily: SERIF,
          fontSize: 19.6,
          fontVariant: "small-caps",
          color: "#000",
        }}
      >
        A Preprint
      </div>
      <div style={{ position: "absolute", left: 5, top: 27, width: 939, height: 1, background: "#000" }} />

      {/* y axis title */}
      <div
        style={{
          position: "absolute",
          left: 22,
          top: 624,
          transform: "translate(-50%, -50%) rotate(-90deg)",
          fontFamily: FONT,
          fontSize: 15.2,
          color: "#000",
          whiteSpace: "nowrap",
        }}
      >
        AUC
      </div>

      {/* panels */}
      {panelGrid.map((row, r) =>
        row.map((panel, c) => (
          <Panel key={`${r}-${c}`} data={panel} left={COL_LEFT[c]} top={ROW_TOP[r]} showY={c === 0} showX={r === 3} />
        ))
      )}

      {/* column strips */}
      {processes.map((p, c) => (
        <div key={p} style={{ ...stripStyle, left: COL_LEFT[c] - 0.5, top: 121.7, width: PANEL_W + 1, height: 27.1 }}>
          {p}
        </div>
      ))}

      {/* row strips */}
      {shifts.map((s, r) => (
        <div key={r} style={{ ...stripStyle, left: 879.3, top: ROW_TOP[r] - 0.5, width: 27.5, height: PANEL_H + 1, writingMode: "vertical-rl" }}>
          {s}
        </div>
      ))}
      {sampleSizes.map((n, i) => (
        <div
          key={n}
          style={{
            ...stripStyle,
            left: 906.6,
            top: ROW_TOP[2 * i] - 0.5,
            width: 27.6,
            height: ROW_TOP[2 * i + 1] + PANEL_H - ROW_TOP[2 * i] + 1,
            writingMode: "vertical-rl",
          }}
        >
          {n}
        </div>
      ))}

      {/* legend */}
      <div
        style={{
          position: "absolute",
          left: 230,
          top: 1217,
          height: 24,
          display: "flex",
          alignItems: "center",
          fontFamily: FONT,
          color: "#000",
          whiteSpace: "nowrap",
        }}
      >
        <span style={{ fontSize: 15.2, marginRight: 10 }}>Fraction of contaminated samples</span>
        {fractions.map((fr, f) => (
          <span key={fr} style={{ display: "flex", alignItems: "center" }}>
            <span
              style={{
                display: "inline-block",
                width: 23,
                height: 23,
                boxSizing: "border-box",
                border: `1.3px solid ${fractionColors[f]}`,
                background: fractionColors[f] + "80",
              }}
            />
            <span style={{ fontSize: 12.2, marginLeft: 8, marginRight: 11 }}>{fr}</span>
          </span>
        ))}
      </div>
    </div>
  );
}
